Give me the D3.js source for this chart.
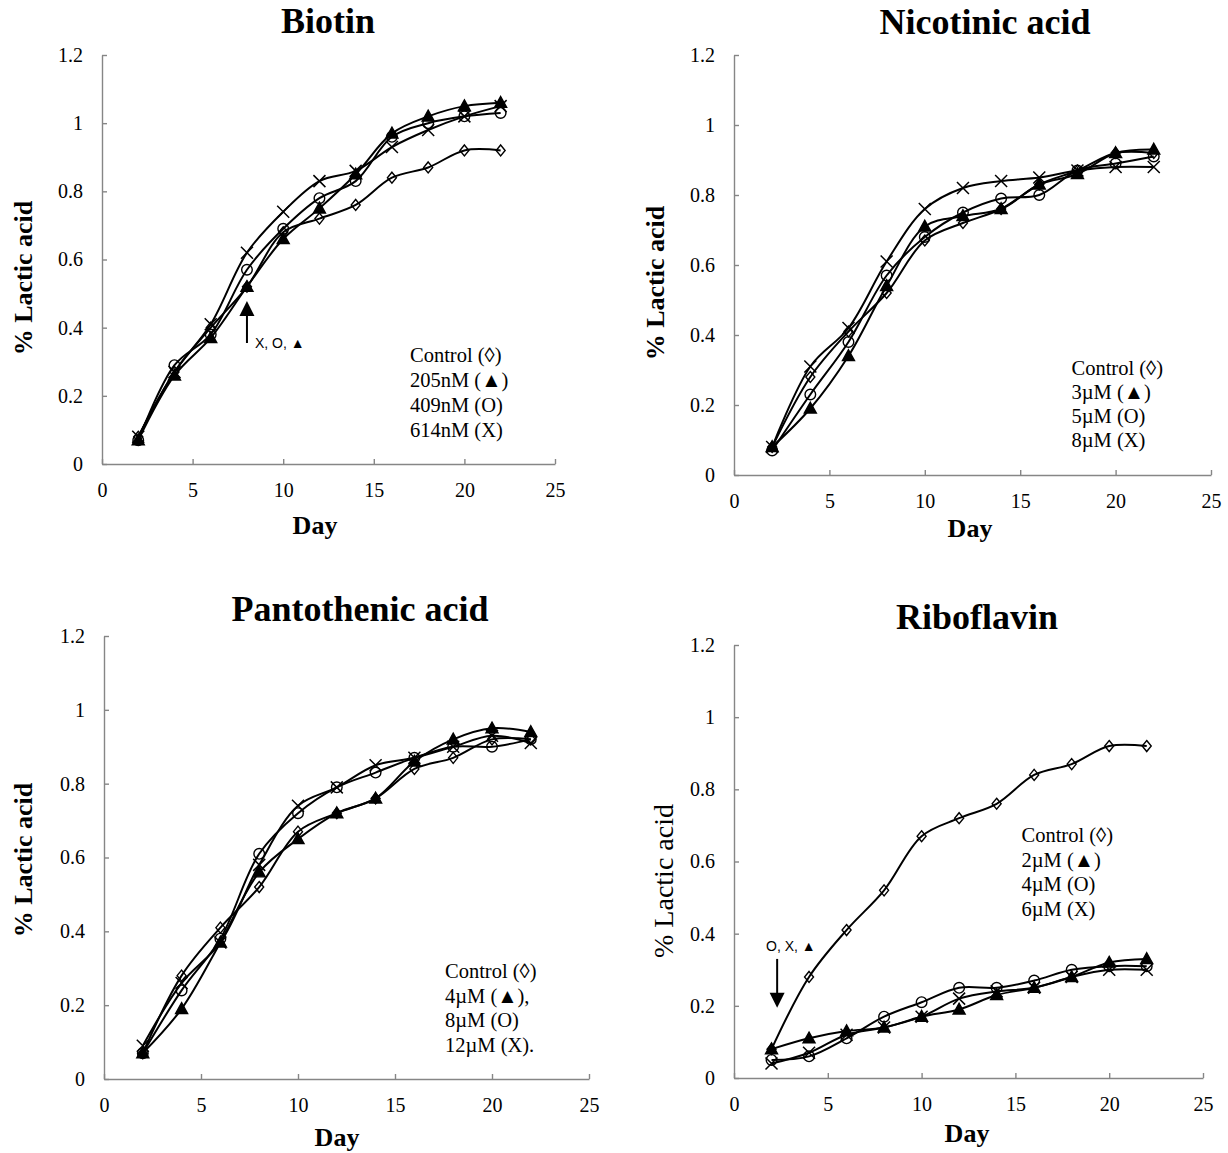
<!DOCTYPE html>
<html><head><meta charset="utf-8">
<script src="https://cdn.jsdelivr.net/npm/d3@7"></script>
<style>body{margin:0;background:#fff} svg{display:block}</style>
</head><body>
<svg id="c" width="1228" height="1153"></svg>
<script>
// ---------- DATA ----------
const days = [2, 4, 6, 8, 10, 12, 14, 16, 18, 20, 22];
const xTicks = [0, 5, 10, 15, 20, 25];
const yTicks = [0, 0.2, 0.4, 0.6, 0.8, 1, 1.2];
const yTickLabels = ["0", "0.2", "0.4", "0.6", "0.8", "1", "1.2"];
const seriesMarkers = ["diamond", "triangle", "circle", "x"];

const biotinControl = [0.08, 0.27, 0.40, 0.52, 0.68, 0.72, 0.76, 0.84, 0.87, 0.92, 0.92];
const biotin205 = [0.07, 0.26, 0.37, 0.52, 0.66, 0.75, 0.85, 0.97, 1.02, 1.05, 1.06];
const biotin409 = [0.07, 0.29, 0.38, 0.57, 0.69, 0.78, 0.83, 0.96, 1.00, 1.02, 1.03];
const biotin614 = [0.08, 0.27, 0.41, 0.62, 0.74, 0.83, 0.86, 0.93, 0.98, 1.02, 1.05];
const biotinLegend = ["Control (\u25CA)", "205nM (\u25B2)", "409nM (O)", "614nM (X)"];

const nicotinicControl = [0.08, 0.28, 0.41, 0.52, 0.67, 0.72, 0.76, 0.83, 0.87, 0.92, 0.92];
const nicotinic3 = [0.08, 0.19, 0.34, 0.54, 0.71, 0.74, 0.76, 0.83, 0.86, 0.92, 0.93];
const nicotinic5 = [0.07, 0.23, 0.38, 0.57, 0.68, 0.75, 0.79, 0.80, 0.87, 0.89, 0.91];
const nicotinic8 = [0.08, 0.31, 0.42, 0.61, 0.76, 0.82, 0.84, 0.85, 0.87, 0.88, 0.88];
const nicotinicLegend = ["Control (\u25CA)", "3\u00B5M (\u25B2)", "5\u00B5M (O)", "8\u00B5M (X)"];

const pantoControl = [0.07, 0.28, 0.41, 0.52, 0.67, 0.72, 0.76, 0.84, 0.87, 0.92, 0.92];
const panto4 = [0.07, 0.19, 0.37, 0.56, 0.65, 0.72, 0.76, 0.86, 0.92, 0.95, 0.94];
const panto8 = [0.07, 0.24, 0.38, 0.61, 0.72, 0.79, 0.83, 0.87, 0.90, 0.90, 0.92];
const panto12 = [0.09, 0.26, 0.37, 0.58, 0.74, 0.79, 0.85, 0.87, 0.90, 0.93, 0.91];
const pantoLegend = ["Control (\u25CA)", "4\u00B5M (\u25B2),", "8\u00B5M (O)", "12\u00B5M (X)."];

const riboControl = [0.08, 0.28, 0.41, 0.52, 0.67, 0.72, 0.76, 0.84, 0.87, 0.92, 0.92];
const ribo2 = [0.08, 0.11, 0.13, 0.14, 0.17, 0.19, 0.23, 0.25, 0.28, 0.32, 0.33];
const ribo4 = [0.05, 0.06, 0.11, 0.17, 0.21, 0.25, 0.25, 0.27, 0.30, 0.31, 0.31];
const ribo6 = [0.04, 0.07, 0.12, 0.14, 0.17, 0.22, 0.24, 0.25, 0.28, 0.30, 0.30];
const riboLegend = ["Control (\u25CA)", "2\u00B5M (\u25B2)", "4\u00B5M (O)", "6\u00B5M (X)"];

// ---------- LAYOUT ----------
const panels = [
  {title: "Biotin", tx: 328, ty: 33, xr: [102, 555], yr: [464, 55],
   series: [biotinControl, biotin205, biotin409, biotin614], legend: biotinLegend,
   lx: 410, ly: 361.5, ldy: 25,
   ylab: {x: 32, y: 278, bold: true, size: 26}, day: {x: 315, y: 534},
   ann: {text: "X, O, \u25B2", tx: 255, ty: 348, ax: 8, from: 0.355, to: 0.478}},
  {title: "Nicotinic acid", tx: 985, ty: 34, xr: [734, 1211], yr: [475, 55],
   series: [nicotinicControl, nicotinic3, nicotinic5, nicotinic8], legend: nicotinicLegend,
   lx: 1071.5, ly: 374.5, ldy: 24.3,
   ylab: {x: 664, y: 283, bold: true, size: 26}, day: {x: 970, y: 537}},
  {title: "Pantothenic acid", tx: 360, ty: 621, xr: [104, 589], yr: [1079, 636],
   series: [pantoControl, panto4, panto8, panto12], legend: pantoLegend,
   lx: 445, ly: 978, ldy: 24.5,
   ylab: {x: 32, y: 860, bold: true, size: 26}, day: {x: 337, y: 1146}},
  {title: "Riboflavin", tx: 977, ty: 629, xr: [734, 1203], yr: [1078, 645],
   series: [riboControl, ribo2, ribo4, ribo6], legend: riboLegend,
   lx: 1021.5, ly: 842, ldy: 24.5,
   ylab: {x: 673, y: 881, bold: false, size: 28}, day: {x: 967, y: 1142},
   ann: {text: "O, X, \u25B2", tx: 766, ty: 951, ax: 2.3, from: 0.33, to: 0.195}}
];

const serif = "'Liberation Serif','Times New Roman',serif";
const sans = "'Liberation Sans',Arial,sans-serif";
const svg = d3.select("#c");
const axisColor = "#868686";

function markerPath(type) {
  if (type === "diamond") return "M0,-5.5L4.5,0L0,5.5L-4.5,0Z";
  if (type === "triangle") return "M0,-6.2L6,4.6L-6,4.6Z";
  if (type === "circle") return d3.arc()({innerRadius: 0, outerRadius: 5.3, startAngle: 0, endAngle: 2 * Math.PI});
  return "M-6,-6L6,6M-6,6L6,-6";
}

panels.forEach(p => {
  const g = svg.append("g");
  const x = d3.scaleLinear().domain([0, 25]).range(p.xr);
  const y = d3.scaleLinear().domain([0, 1.2]).range(p.yr);

  // axes
  const xa = g.append("g").attr("transform", `translate(0,${p.yr[0]})`)
    .call(d3.axisBottom(x).tickValues(xTicks).tickFormat(d3.format("d"))
      .tickSizeInner(-5).tickSizeOuter(0).tickPadding(19));
  const ya = g.append("g").attr("transform", `translate(${p.xr[0]},0)`)
    .call(d3.axisLeft(y).tickValues(yTicks).tickFormat((d, i) => yTickLabels[i])
      .tickSizeInner(-5).tickSizeOuter(0).tickPadding(19));
  [xa, ya].forEach(a => {
    a.select(".domain").attr("stroke", axisColor).attr("stroke-width", 1.4);
    a.selectAll(".tick line").attr("stroke", axisColor).attr("stroke-width", 1.4);
    a.selectAll("text").attr("font-family", serif).attr("font-size", 20).attr("fill", "#000");
  });

  // lines
  const line = d3.line().x((d, i) => x(days[i])).y(d => y(d)).curve(d3.curveCatmullRom.alpha(0.5));
  p.series.forEach(s => {
    g.append("path").attr("d", line(s)).attr("fill", "none")
      .attr("stroke", "#000").attr("stroke-width", 2);
  });
  // markers
  p.series.forEach((s, si) => {
    const type = seriesMarkers[si];
    g.selectAll(null).data(s).enter().append("path")
      .attr("transform", (d, i) => `translate(${x(days[i])},${y(d)})`)
      .attr("d", markerPath(type))
      .attr("fill", type === "triangle" ? "#000" : "none")
      .attr("stroke", "#000")
      .attr("stroke-width", type === "x" ? 1.5 : 1.4);
  });

  // title
  g.append("text").attr("x", p.tx).attr("y", p.ty).attr("text-anchor", "middle")
    .attr("font-family", serif).attr("font-weight", "bold").attr("font-size", 36).text(p.title);
  // axis titles
  g.append("text").attr("x", p.day.x).attr("y", p.day.y).attr("text-anchor", "middle")
    .attr("font-family", serif).attr("font-weight", "bold").attr("font-size", 26).text("Day");
  g.append("text").attr("transform", `translate(${p.ylab.x},${p.ylab.y}) rotate(-90)`)
    .attr("text-anchor", "middle").attr("font-family", serif)
    .attr("font-weight", p.ylab.bold ? "bold" : "normal").attr("font-size", p.ylab.size)
    .text("% Lactic acid");
  // legend text
  const lt = g.append("text").attr("font-family", serif).attr("font-size", 20.5);
  p.legend.forEach((t, i) => {
    lt.append("tspan").attr("x", p.lx).attr("y", p.ly + i * p.ldy).text(t);
  });
  // annotation arrow
  if (p.ann) {
    const a = p.ann;
    const ax = x(a.ax), y0 = y(a.from), y1 = y(a.to);
    const dir = y1 < y0 ? -1 : 1; // -1 up
    const headLen = 15, headHalf = 7.5;
    g.append("line").attr("x1", ax).attr("x2", ax).attr("y1", y0).attr("y2", y1 - dir * headLen + dir * 1)
      .attr("stroke", "#000").attr("stroke-width", 2);
    g.append("path").attr("d",
      `M${ax},${y1}L${ax - headHalf},${y1 - dir * headLen}L${ax + headHalf},${y1 - dir * headLen}Z`)
      .attr("fill", "#000");
    g.append("text").attr("x", a.tx).attr("y", a.ty).attr("font-family", sans)
      .attr("font-size", 14).text(a.text);
  }
});
</script>
</body></html>
